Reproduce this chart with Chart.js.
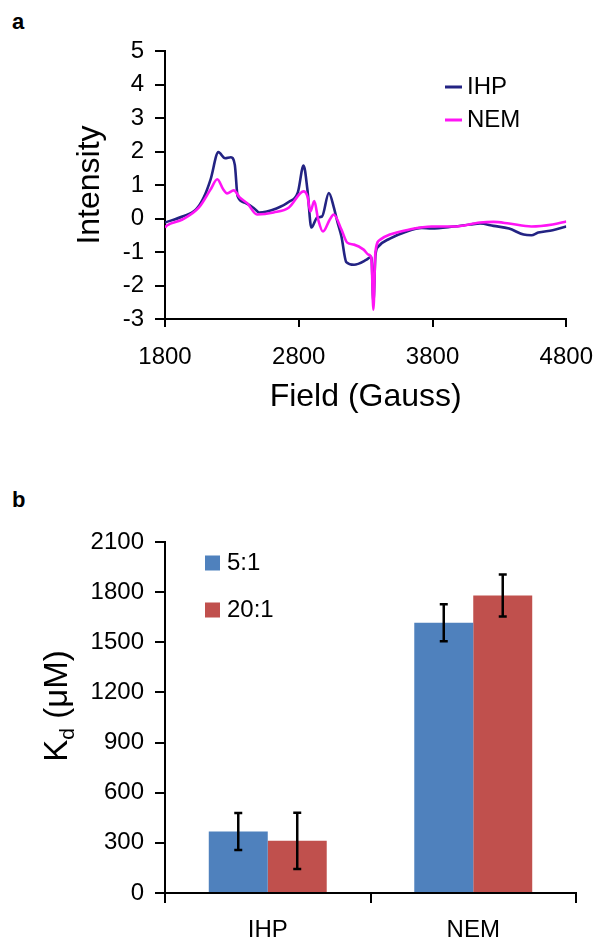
<!DOCTYPE html>
<html>
<head>
<meta charset="utf-8">
<script src="https://cdn.jsdelivr.net/npm/chart.js@4/dist/chart.umd.min.js"></script>
<style>
  html, body { margin: 0; padding: 0; background: #fff; }
  body { width: 609px; height: 942px; position: relative; overflow: hidden; font-family: "Liberation Sans", Arial, sans-serif; }
  .panel { position: absolute; left: 12px; font-weight: bold; font-size: 22px; line-height: 22px; color: #000; }
  #wrapA { position: absolute; left: 0; top: 0; width: 609px; height: 440px; }
  #wrapB { position: absolute; left: 0; top: 470px; width: 609px; height: 472px; }
</style>
</head>
<body>
<div class="panel" style="top:11px">a</div>
<div class="panel" style="top:489px">b</div>
<div id="wrapA"><canvas id="spectrumChart" width="609" height="440"></canvas></div>
<div id="wrapB"><canvas id="kdChart" width="609" height="472"></canvas></div>
<script>
const FONT = '"Liberation Sans", Arial, sans-serif';
Chart.defaults.font.family = FONT;
Chart.defaults.color = '#000';

// panel a - EPR spectra
const fieldIHP = [1800, 1930, 2032, 2090, 2141, 2199, 2249, 2293, 2322, 2343, 2394, 2467, 2503, 2633, 2727, 2793, 2836, 2865, 2894, 2938, 2974, 3025, 3061, 3090, 3119, 3155, 3213, 3307, 3343, 3358, 3373, 3394, 3481, 3597, 3720, 3793, 3959, 4082, 4155, 4256, 4372, 4481, 4539, 4590, 4698, 4800];
const intensityIHP = [-0.12, 0.06, 0.27, 0.63, 1.17, 1.98, 1.80, 1.83, 1.60, 0.66, 0.48, 0.30, 0.18, 0.30, 0.50, 0.78, 1.58, 0.85, -0.27, 0.03, 0.06, 0.76, 0.35, -0.12, -0.54, -1.30, -1.38, -1.23, -1.14, -2.50, -1.10, -0.84, -0.60, -0.40, -0.28, -0.30, -0.24, -0.18, -0.15, -0.22, -0.30, -0.48, -0.50, -0.42, -0.35, -0.24];
const fieldNEM = [1800, 1814, 1930, 2054, 2141, 2191, 2235, 2264, 2314, 2358, 2416, 2488, 2612, 2727, 2836, 2865, 2887, 2916, 2945, 2981, 3032, 3061, 3119, 3162, 3213, 3285, 3322, 3343, 3358, 3373, 3409, 3481, 3626, 3793, 3959, 4155, 4256, 4372, 4539, 4698, 4800];
const intensityNEM = [-0.27, -0.21, -0.03, 0.33, 0.87, 1.17, 0.87, 0.75, 0.84, 0.63, 0.45, 0.12, 0.18, 0.33, 0.81, 0.66, 0.21, 0.52, -0.03, -0.39, -0.03, 0.12, -0.33, -0.72, -0.78, -0.93, -1.08, -1.20, -2.72, -1.00, -0.63, -0.48, -0.33, -0.24, -0.24, -0.12, -0.10, -0.15, -0.24, -0.18, -0.09];
const fieldTicks = [1800, 2800, 3800, 4800];
const intensityTicks = [-3, -2, -1, 0, 1, 2, 3, 4, 5];

// panel b - Kd values with error bars
const groups = ['IHP', 'NEM'];
const kd5to1 = [368, 1617];
const kd5to1Err = [111, 111];
const kd20to1 = [312, 1780];
const kd20to1Err = [168, 126];
const kdTicks = [0, 300, 600, 900, 1200, 1500, 1800, 2100];

const toPoints = (xs, ys) => xs.map((x, i) => ({ x: x, y: ys[i] }));
const plainLabel = (v) => String(v); // no thousands separator

const axisGrid = { display: true, drawOnChartArea: false, drawTicks: true, tickLength: 10, color: '#000', lineWidth: 2 };
const axisBorder = { display: true, color: '#000', width: 2 };

// legend for the spectra, drawn by hand
const lineLegend = {
  id: 'lineLegend',
  afterDraw(chart) {
    const ctx = chart.ctx;
    ctx.save();
    ctx.font = '24px ' + FONT;
    ctx.textBaseline = 'middle';
    chart.data.datasets.forEach((ds, i) => {
      const y = 87 + i * 33;
      ctx.strokeStyle = ds.borderColor;
      ctx.lineWidth = 3;
      ctx.beginPath();
      ctx.moveTo(445, y);
      ctx.lineTo(462, y);
      ctx.stroke();
      ctx.fillStyle = '#000';
      ctx.fillText(ds.label, 467, y);
    });
    ctx.restore();
  }
};

new Chart(document.getElementById('spectrumChart'), {
  type: 'line',
  data: {
    datasets: [
      { label: 'IHP', data: toPoints(fieldIHP, intensityIHP), borderColor: '#232383', borderWidth: 2.6, pointRadius: 0, cubicInterpolationMode: 'monotone', order: 2 },
      { label: 'NEM', data: toPoints(fieldNEM, intensityNEM), borderColor: '#ff14f5', borderWidth: 2.6, pointRadius: 0, cubicInterpolationMode: 'monotone', order: 1 }
    ]
  },
  options: {
    responsive: false,
    animation: false,
    layout: { padding: { left: 0, right: 30, top: 51, bottom: 0 } },
    plugins: { legend: { display: false }, tooltip: { enabled: false } },
    scales: {
      x: {
        type: 'linear',
        min: 1800, max: 4800,
        grid: Object.assign({}, axisGrid, { tickLength: 8 }),
        border: axisBorder,
        ticks: { font: { size: 24 }, padding: 16, maxRotation: 0, callback: plainLabel },
        afterBuildTicks(scale) { scale.ticks = fieldTicks.map(v => ({ value: v })); },
        title: { display: true, text: 'Field (Gauss)', font: { size: 32 }, padding: { top: 0, bottom: 24 } },
        afterFit(scale) { scale.height = 121; }
      },
      y: {
        min: -3, max: 5,
        grid: axisGrid,
        border: axisBorder,
        ticks: { font: { size: 24 }, padding: 11, callback: plainLabel },
        afterBuildTicks(scale) { scale.ticks = intensityTicks.map(v => ({ value: v })); },
        title: { display: true, text: 'Intensity', font: { size: 32 }, padding: { top: 71, bottom: 0 } },
        afterFit(scale) { scale.width = 165; }
      }
    }
  },
  plugins: [lineLegend]
});

// error bars on top of the bars
const errorBars = {
  id: 'errorBars',
  afterDatasetsDraw(chart) {
    const ctx = chart.ctx;
    const yScale = chart.scales.y;
    ctx.save();
    ctx.strokeStyle = '#000';
    ctx.lineWidth = 2.5;
    chart.data.datasets.forEach((ds, i) => {
      chart.getDatasetMeta(i).data.forEach((bar, j) => {
        const yTop = yScale.getPixelForValue(ds.data[j] + ds.errors[j]);
        const yBot = yScale.getPixelForValue(ds.data[j] - ds.errors[j]);
        ctx.beginPath();
        ctx.moveTo(bar.x, yTop); ctx.lineTo(bar.x, yBot);
        ctx.moveTo(bar.x - 4, yTop); ctx.lineTo(bar.x + 4, yTop);
        ctx.moveTo(bar.x - 4, yBot); ctx.lineTo(bar.x + 4, yBot);
        ctx.stroke();
      });
    });
    ctx.restore();
  }
};

// square legend + the K_d axis title (needs a subscript)
const barExtras = {
  id: 'barExtras',
  afterDraw(chart) {
    const ctx = chart.ctx;
    ctx.save();
    ctx.font = '24px ' + FONT;
    ctx.textBaseline = 'middle';
    chart.data.datasets.forEach((ds, i) => {
      const y = 93 + i * 47;
      ctx.fillStyle = ds.backgroundColor;
      ctx.fillRect(205, y - 7.5, 15, 15);
      ctx.fillStyle = '#000';
      ctx.fillText(ds.label, 227, y);
    });
    ctx.restore();

    ctx.save();
    ctx.fillStyle = '#000';
    ctx.textBaseline = 'alphabetic';
    const big = '33px ' + FONT, small = '21px ' + FONT;
    ctx.font = big; const wK = ctx.measureText('K').width; const wRest = ctx.measureText(' (\u03bcM)').width;
    ctx.font = small; const wD = ctx.measureText('d').width;
    const total = wK + wD + wRest;
    ctx.translate(67, 236);
    ctx.rotate(-Math.PI / 2);
    let x = -total / 2;
    ctx.font = big; ctx.fillText('K', x, 0); x += wK;
    ctx.font = small; ctx.fillText('d', x, 7); x += wD;
    ctx.font = big; ctx.fillText(' (\u03bcM)', x, 0);
    ctx.restore();
  }
};

new Chart(document.getElementById('kdChart'), {
  type: 'bar',
  data: {
    labels: groups,
    datasets: [
      { label: '5:1', data: kd5to1, errors: kd5to1Err, backgroundColor: '#4f81bd' },
      { label: '20:1', data: kd20to1, errors: kd20to1Err, backgroundColor: '#c0504d' }
    ]
  },
  options: {
    responsive: false,
    animation: false,
    layout: { padding: { left: 0, right: 33, top: 72, bottom: 0 } },
    plugins: { legend: { display: false }, tooltip: { enabled: false } },
    datasets: { bar: { categoryPercentage: 0.574, barPercentage: 1.0 } },
    scales: {
      x: {
        grid: Object.assign({}, axisGrid, { offset: true }),
        border: axisBorder,
        ticks: { font: { size: 24 }, padding: 13 },
        afterFit(scale) { scale.height = 49; }
      },
      y: {
        min: 0, max: 2100,
        grid: axisGrid,
        border: axisBorder,
        ticks: { font: { size: 24 }, padding: 11, callback: plainLabel },
        afterBuildTicks(scale) { scale.ticks = kdTicks.map(v => ({ value: v })); },
        afterFit(scale) { scale.width = 165; }
      }
    }
  },
  plugins: [errorBars, barExtras]
});
</script>
</body>
</html>
